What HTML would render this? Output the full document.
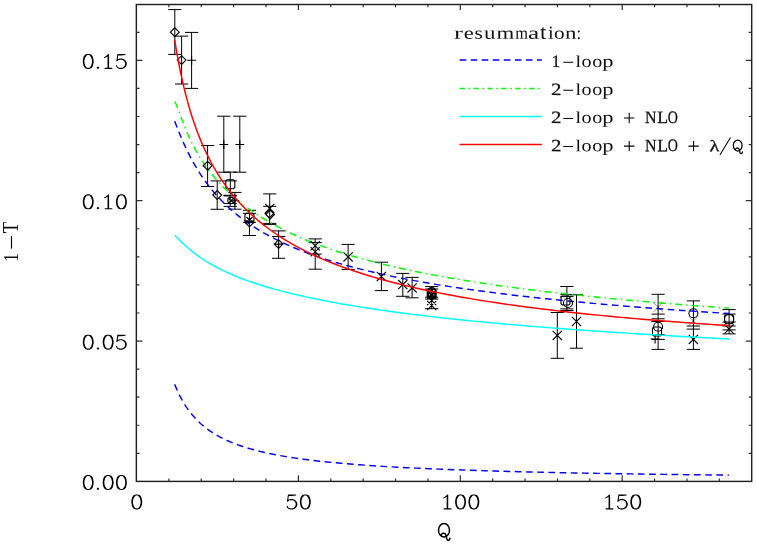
<!DOCTYPE html>
<html><head><meta charset="utf-8"><title>plot</title><style>html,body{margin:0;padding:0;background:#fff}body{width:757px;height:545px;overflow:hidden;font-family:"Liberation Serif",serif}svg{display:block;will-change:transform}</style></head><body>
<svg width="757" height="545" viewBox="0 0 757 545">
<rect width="757" height="545" fill="#fff"/>
<path d="M168.88 481.40 v-3.00 M168.88 4.50 v2.70 M201.26 481.40 v-3.00 M201.26 4.50 v2.70 M233.64 481.40 v-3.00 M233.64 4.50 v2.70 M266.02 481.40 v-3.00 M266.02 4.50 v2.70 M298.40 481.40 v-6.20 M298.40 4.50 v5.58 M330.78 481.40 v-3.00 M330.78 4.50 v2.70 M363.16 481.40 v-3.00 M363.16 4.50 v2.70 M395.54 481.40 v-3.00 M395.54 4.50 v2.70 M427.92 481.40 v-3.00 M427.92 4.50 v2.70 M460.30 481.40 v-6.20 M460.30 4.50 v5.58 M492.68 481.40 v-3.00 M492.68 4.50 v2.70 M525.06 481.40 v-3.00 M525.06 4.50 v2.70 M557.44 481.40 v-3.00 M557.44 4.50 v2.70 M589.82 481.40 v-3.00 M589.82 4.50 v2.70 M622.20 481.40 v-6.20 M622.20 4.50 v5.58 M654.58 481.40 v-3.00 M654.58 4.50 v2.70 M686.96 481.40 v-3.00 M686.96 4.50 v2.70 M719.34 481.40 v-3.00 M719.34 4.50 v2.70 M136.50 453.33 h3.00 M751.70 453.33 h-3.00 M136.50 425.26 h3.00 M751.70 425.26 h-3.00 M136.50 397.19 h3.00 M751.70 397.19 h-3.00 M136.50 369.12 h3.00 M751.70 369.12 h-3.00 M136.50 341.05 h6.00 M751.70 341.05 h-6.00 M136.50 312.98 h3.00 M751.70 312.98 h-3.00 M136.50 284.91 h3.00 M751.70 284.91 h-3.00 M136.50 256.84 h3.00 M751.70 256.84 h-3.00 M136.50 228.77 h3.00 M751.70 228.77 h-3.00 M136.50 200.70 h6.00 M751.70 200.70 h-6.00 M136.50 172.63 h3.00 M751.70 172.63 h-3.00 M136.50 144.56 h3.00 M751.70 144.56 h-3.00 M136.50 116.49 h3.00 M751.70 116.49 h-3.00 M136.50 88.42 h3.00 M751.70 88.42 h-3.00 M136.50 60.35 h6.00 M751.70 60.35 h-6.00 M136.50 32.28 h3.00 M751.70 32.28 h-3.00" stroke="#333" stroke-width="1.2" fill="none"/>
<rect x="136.35" y="4.50" width="615.35" height="476.90" fill="none" stroke="#222" stroke-width="1.45"/>
<g fill="none" stroke="#000" stroke-width="1.1" stroke-linejoin="round" stroke-linecap="round">
<path d="M87.53 475.53 L85.44 476.19 L84.04 478.18 L83.35 481.50 L83.35 483.49 L84.04 486.81 L85.44 488.81 L87.53 489.47 L88.92 489.47 L91.01 488.81 L92.41 486.81 L93.11 483.49 L93.11 481.50 L92.41 478.18 L91.01 476.19 L88.92 475.53 L87.53 475.53 M86.27 476.19 L84.74 478.18 L83.90 481.17 L83.90 483.83 L84.74 486.81 L86.27 488.81 M90.18 488.81 L91.71 486.81 L92.55 483.83 L92.55 481.17 L91.71 478.18 L90.18 476.19 M97.92 488.14 L97.26 488.81 L97.92 489.47 L98.58 488.81 L97.92 488.14 M97.92 488.67 L97.92 488.94 M107.45 475.53 L105.36 476.19 L103.96 478.18 L103.27 481.50 L103.27 483.49 L103.96 486.81 L105.36 488.81 L107.45 489.47 L108.84 489.47 L110.93 488.81 L112.33 486.81 L113.03 483.49 L113.03 481.50 L112.33 478.18 L110.93 476.19 L108.84 475.53 L107.45 475.53 M106.19 476.19 L104.66 478.18 L103.82 481.17 L103.82 483.83 L104.66 486.81 L106.19 488.81 M110.10 488.81 L111.63 486.81 L112.47 483.83 L112.47 481.17 L111.63 478.18 L110.10 476.19 M120.73 475.53 L118.64 476.19 L117.24 478.18 L116.55 481.50 L116.55 483.49 L117.24 486.81 L118.64 488.81 L120.73 489.47 L122.12 489.47 L124.21 488.81 L125.61 486.81 L126.31 483.49 L126.31 481.50 L125.61 478.18 L124.21 476.19 L122.12 475.53 L120.73 475.53 M119.47 476.19 L117.94 478.18 L117.10 481.17 L117.10 483.83 L117.94 486.81 L119.47 488.81 M123.38 488.81 L124.91 486.81 L125.75 483.83 L125.75 481.17 L124.91 478.18 L123.38 476.19"/>
<path d="M87.53 335.18 L85.44 335.84 L84.04 337.83 L83.35 341.15 L83.35 343.14 L84.04 346.46 L85.44 348.46 L87.53 349.12 L88.92 349.12 L91.01 348.46 L92.41 346.46 L93.11 343.14 L93.11 341.15 L92.41 337.83 L91.01 335.84 L88.92 335.18 L87.53 335.18 M86.27 335.84 L84.74 337.83 L83.90 340.82 L83.90 343.48 L84.74 346.46 L86.27 348.46 M90.18 348.46 L91.71 346.46 L92.55 343.48 L92.55 340.82 L91.71 337.83 L90.18 335.84 M97.92 347.79 L97.26 348.46 L97.92 349.12 L98.58 348.46 L97.92 347.79 M97.92 348.32 L97.92 348.59 M107.45 335.18 L105.36 335.84 L103.96 337.83 L103.27 341.15 L103.27 343.14 L103.96 346.46 L105.36 348.46 L107.45 349.12 L108.84 349.12 L110.93 348.46 L112.33 346.46 L113.03 343.14 L113.03 341.15 L112.33 337.83 L110.93 335.84 L108.84 335.18 L107.45 335.18 M106.19 335.84 L104.66 337.83 L103.82 340.82 L103.82 343.48 L104.66 346.46 L106.19 348.46 M110.10 348.46 L111.63 346.46 L112.47 343.48 L112.47 340.82 L111.63 337.83 L110.10 335.84 M117.84 335.18 L116.91 341.48 M116.91 341.48 L117.84 340.49 L119.83 339.82 L121.82 339.82 L123.82 340.49 L125.41 341.82 L126.21 343.81 L126.21 345.14 L125.41 347.13 L123.82 348.46 L121.82 349.12 L119.83 349.12 L117.84 348.46 L117.18 347.79 L116.51 346.46 M121.82 339.82 L123.48 340.49 L124.88 341.82 L125.68 343.81 L125.68 345.14 L124.88 347.13 L123.48 348.46 L121.82 349.12 M117.84 335.18 L125.14 335.18 M117.84 335.71 L121.16 335.71 L125.14 335.18"/>
<path d="M87.53 194.83 L85.44 195.49 L84.04 197.48 L83.35 200.80 L83.35 202.79 L84.04 206.11 L85.44 208.11 L87.53 208.77 L88.92 208.77 L91.01 208.11 L92.41 206.11 L93.11 202.79 L93.11 200.80 L92.41 197.48 L91.01 195.49 L88.92 194.83 L87.53 194.83 M86.27 195.49 L84.74 197.48 L83.90 200.47 L83.90 203.13 L84.74 206.11 L86.27 208.11 M90.18 208.11 L91.71 206.11 L92.55 203.13 L92.55 200.47 L91.71 197.48 L90.18 195.49 M97.92 207.44 L97.26 208.11 L97.92 208.77 L98.58 208.11 L97.92 207.44 M97.92 207.97 L97.92 208.24 M104.69 197.75 L106.22 196.95 L108.54 194.83 L108.54 208.77 M108.08 195.62 L108.08 208.77 M105.09 208.77 L111.86 208.77 M120.73 194.83 L118.64 195.49 L117.24 197.48 L116.55 200.80 L116.55 202.79 L117.24 206.11 L118.64 208.11 L120.73 208.77 L122.12 208.77 L124.21 208.11 L125.61 206.11 L126.31 202.79 L126.31 200.80 L125.61 197.48 L124.21 195.49 L122.12 194.83 L120.73 194.83 M119.47 195.49 L117.94 197.48 L117.10 200.47 L117.10 203.13 L117.94 206.11 L119.47 208.11 M123.38 208.11 L124.91 206.11 L125.75 203.13 L125.75 200.47 L124.91 197.48 L123.38 195.49"/>
<path d="M87.53 54.48 L85.44 55.14 L84.04 57.13 L83.35 60.45 L83.35 62.44 L84.04 65.76 L85.44 67.76 L87.53 68.42 L88.92 68.42 L91.01 67.76 L92.41 65.76 L93.11 62.44 L93.11 60.45 L92.41 57.13 L91.01 55.14 L88.92 54.48 L87.53 54.48 M86.27 55.14 L84.74 57.13 L83.90 60.12 L83.90 62.78 L84.74 65.76 L86.27 67.76 M90.18 67.76 L91.71 65.76 L92.55 62.78 L92.55 60.12 L91.71 57.13 L90.18 55.14 M97.92 67.09 L97.26 67.76 L97.92 68.42 L98.58 67.76 L97.92 67.09 M97.92 67.62 L97.92 67.89 M104.69 57.40 L106.22 56.60 L108.54 54.48 L108.54 68.42 M108.08 55.27 L108.08 68.42 M105.09 68.42 L111.86 68.42 M117.84 54.48 L116.91 60.78 M116.91 60.78 L117.84 59.79 L119.83 59.12 L121.82 59.12 L123.82 59.79 L125.41 61.12 L126.21 63.11 L126.21 64.44 L125.41 66.43 L123.82 67.76 L121.82 68.42 L119.83 68.42 L117.84 67.76 L117.18 67.09 L116.51 65.76 M121.82 59.12 L123.48 59.79 L124.88 61.12 L125.68 63.11 L125.68 64.44 L124.88 66.43 L123.48 67.76 L121.82 68.42 M117.84 54.48 L125.14 54.48 M117.84 55.01 L121.16 55.01 L125.14 54.48"/>
<path d="M136.07 494.96 L133.98 495.62 L132.58 497.61 L131.89 500.93 L131.89 502.92 L132.58 506.24 L133.98 508.24 L136.07 508.90 L137.46 508.90 L139.55 508.24 L140.95 506.24 L141.65 502.92 L141.65 500.93 L140.95 497.61 L139.55 495.62 L137.46 494.96 L136.07 494.96 M134.81 495.62 L133.28 497.61 L132.44 500.60 L132.44 503.26 L133.28 506.24 L134.81 508.24 M138.72 508.24 L140.25 506.24 L141.09 503.26 L141.09 500.60 L140.25 497.61 L138.72 495.62"/>
<path d="M288.44 494.96 L287.51 501.26 M287.51 501.26 L288.44 500.27 L290.43 499.60 L292.42 499.60 L294.42 500.27 L296.01 501.60 L296.81 503.59 L296.81 504.92 L296.01 506.91 L294.42 508.24 L292.42 508.90 L290.43 508.90 L288.44 508.24 L287.78 507.57 L287.11 506.24 M292.42 499.60 L294.08 500.27 L295.48 501.60 L296.28 503.59 L296.28 504.92 L295.48 506.91 L294.08 508.24 L292.42 508.90 M288.44 494.96 L295.74 494.96 M288.44 495.49 L291.76 495.49 L295.74 494.96 M304.61 494.96 L302.52 495.62 L301.12 497.61 L300.43 500.93 L300.43 502.92 L301.12 506.24 L302.52 508.24 L304.61 508.90 L306.00 508.90 L308.09 508.24 L309.49 506.24 L310.19 502.92 L310.19 500.93 L309.49 497.61 L308.09 495.62 L306.00 494.96 L304.61 494.96 M303.35 495.62 L301.82 497.61 L300.98 500.60 L300.98 503.26 L301.82 506.24 L303.35 508.24 M307.26 508.24 L308.79 506.24 L309.63 503.26 L309.63 500.60 L308.79 497.61 L307.26 495.62"/>
<path d="M443.83 497.88 L445.36 497.08 L447.68 494.96 L447.68 508.90 M447.22 495.75 L447.22 508.90 M444.23 508.90 L451.00 508.90 M459.87 494.96 L457.78 495.62 L456.38 497.61 L455.69 500.93 L455.69 502.92 L456.38 506.24 L457.78 508.24 L459.87 508.90 L461.26 508.90 L463.35 508.24 L464.75 506.24 L465.45 502.92 L465.45 500.93 L464.75 497.61 L463.35 495.62 L461.26 494.96 L459.87 494.96 M458.61 495.62 L457.08 497.61 L456.24 500.60 L456.24 503.26 L457.08 506.24 L458.61 508.24 M462.52 508.24 L464.05 506.24 L464.89 503.26 L464.89 500.60 L464.05 497.61 L462.52 495.62 M473.15 494.96 L471.06 495.62 L469.66 497.61 L468.97 500.93 L468.97 502.92 L469.66 506.24 L471.06 508.24 L473.15 508.90 L474.54 508.90 L476.63 508.24 L478.03 506.24 L478.73 502.92 L478.73 500.93 L478.03 497.61 L476.63 495.62 L474.54 494.96 L473.15 494.96 M471.89 495.62 L470.36 497.61 L469.52 500.60 L469.52 503.26 L470.36 506.24 L471.89 508.24 M475.80 508.24 L477.33 506.24 L478.17 503.26 L478.17 500.60 L477.33 497.61 L475.80 495.62"/>
<path d="M605.73 497.88 L607.26 497.08 L609.58 494.96 L609.58 508.90 M609.12 495.75 L609.12 508.90 M606.13 508.90 L612.90 508.90 M618.88 494.96 L617.95 501.26 M617.95 501.26 L618.88 500.27 L620.87 499.60 L622.86 499.60 L624.86 500.27 L626.45 501.60 L627.25 503.59 L627.25 504.92 L626.45 506.91 L624.86 508.24 L622.86 508.90 L620.87 508.90 L618.88 508.24 L618.22 507.57 L617.55 506.24 M622.86 499.60 L624.52 500.27 L625.92 501.60 L626.72 503.59 L626.72 504.92 L625.92 506.91 L624.52 508.24 L622.86 508.90 M618.88 494.96 L626.18 494.96 M618.88 495.49 L622.20 495.49 L626.18 494.96 M635.05 494.96 L632.96 495.62 L631.56 497.61 L630.87 500.93 L630.87 502.92 L631.56 506.24 L632.96 508.24 L635.05 508.90 L636.44 508.90 L638.53 508.24 L639.93 506.24 L640.63 502.92 L640.63 500.93 L639.93 497.61 L638.53 495.62 L636.44 494.96 L635.05 494.96 M633.79 495.62 L632.26 497.61 L631.42 500.60 L631.42 503.26 L632.26 506.24 L633.79 508.24 M637.70 508.24 L639.23 506.24 L640.07 503.26 L640.07 500.60 L639.23 497.61 L637.70 495.62"/>
</g>
<path d="M174.80 9.60 V54.40 M168.20 9.60 h13.20 M168.20 54.40 h13.20 M181.60 36.10 V84.00 M175.00 36.10 h13.20 M175.00 84.00 h13.20 M191.60 32.40 V88.40 M185.00 32.40 h13.20 M185.00 88.40 h13.20 M207.60 145.50 V186.50 M201.00 145.50 h13.20 M201.00 186.50 h13.20 M223.80 116.20 V172.20 M217.20 116.20 h13.20 M217.20 172.20 h13.20 M239.80 116.20 V172.20 M233.20 116.20 h13.20 M233.20 172.20 h13.20 M217.20 180.90 V209.30 M210.60 180.90 h13.20 M210.60 209.30 h13.20 M230.30 172.10 V195.60 M223.70 172.10 h13.20 M223.70 180.90 h13.20 M223.70 195.60 h13.20 M230.20 195.60 V206.40 M223.60 195.30 h13.20 M223.60 195.90 h13.20 M223.60 203.50 h13.20 M223.60 206.40 h13.20 M234.90 192.40 V209.20 M228.30 192.40 h13.20 M228.30 209.20 h13.20 M249.45 210.30 V235.50 M242.85 210.30 h13.20 M242.85 213.30 h13.20 M242.85 222.30 h13.20 M242.85 235.50 h13.20 M269.70 193.90 V224.20 M263.10 193.90 h13.20 M263.10 206.30 h13.20 M263.10 223.40 h13.20 M263.10 224.40 h13.20 M278.60 230.90 V258.30 M272.00 230.90 h13.20 M272.00 236.50 h13.20 M272.00 258.30 h13.20 M315.20 238.90 V269.20 M308.60 238.90 h13.20 M308.60 242.60 h13.20 M308.60 254.10 h13.20 M308.60 269.20 h13.20 M348.10 244.40 V269.40 M341.50 244.40 h13.20 M341.50 269.40 h13.20 M381.40 262.20 V290.60 M374.80 262.20 h13.20 M374.80 290.60 h13.20 M402.80 273.40 V296.30 M396.20 273.40 h13.20 M396.20 296.30 h13.20 M412.10 277.40 V297.80 M405.50 277.40 h13.20 M405.50 297.80 h13.20 M431.70 286.30 V308.70 M425.10 286.60 h13.20 M425.10 289.00 h13.20 M425.10 297.20 h13.20 M425.10 299.10 h13.20 M425.10 308.70 h13.20 M557.30 312.50 V358.30 M550.70 312.50 h13.20 M550.70 358.30 h13.20 M566.90 286.50 V310.50 M560.30 286.50 h13.20 M560.30 294.70 h13.20 M560.30 296.60 h13.20 M560.30 308.90 h13.20 M560.30 310.50 h13.20 M576.50 294.80 V348.20 M569.90 294.80 h13.20 M569.90 348.20 h13.20 M658.10 294.30 V349.40 M651.50 294.30 h13.20 M651.50 314.10 h13.20 M651.50 318.80 h13.20 M651.50 321.50 h13.20 M651.50 334.70 h13.20 M651.50 339.40 h13.20 M651.50 349.40 h13.20 M693.40 300.90 V349.40 M686.80 300.90 h13.20 M686.80 326.00 h13.20 M686.80 329.10 h13.20 M686.80 349.40 h13.20 M729.10 309.60 V333.90 M722.50 309.60 h13.20 M722.50 314.10 h13.20 M722.50 322.00 h13.20 M722.50 326.00 h13.20 M722.50 329.90 h13.20 M722.50 333.90 h13.20" stroke="#000" stroke-width="1" fill="none"/>
<g fill="none" stroke-width="1.45">
<path d="M174.71 384.35 L176.26 388.13 L177.80 391.62 L179.35 394.86 L180.90 397.88 L182.45 400.69 L183.99 403.32 L185.54 405.79 L187.09 408.10 L188.64 410.28 L190.18 412.33 L191.73 414.26 L193.28 416.09 L194.83 417.83 L196.38 419.47 L197.92 421.03 L199.47 422.51 L201.02 423.93 L202.57 425.27 L204.11 426.56 L205.66 427.78 L207.21 428.96 L208.76 430.08 L210.30 431.16 L211.85 432.19 L213.40 433.18 L214.95 434.13 L216.50 435.05 L218.04 435.92 L219.59 436.77 L221.14 437.59 L222.69 438.37 L224.23 439.13 L225.78 439.87 L227.33 440.57 L228.88 441.26 L230.42 441.92 L231.97 442.56 L233.52 443.18 L235.07 443.78 L236.61 444.36 L238.16 444.92 L239.71 445.47 L241.26 446.00 L242.81 446.52 L244.35 447.02 L245.90 447.50 L247.45 447.98 L249.00 448.44 L250.54 448.88 L252.09 449.32 L253.64 449.74 L255.19 450.16 L256.73 450.56 L258.28 450.95 L259.83 451.33 L261.38 451.71 L262.92 452.07 L264.47 452.42 L266.02 452.77 L270.70 453.77 L275.37 454.70 L280.05 455.57 L284.73 456.38 L289.41 457.15 L294.08 457.87 L298.76 458.55 L303.44 459.19 L308.11 459.79 L312.79 460.37 L317.47 460.91 L322.15 461.43 L326.82 461.92 L331.50 462.38 L336.18 462.83 L340.85 463.25 L345.53 463.66 L350.21 464.05 L354.89 464.42 L359.56 464.78 L364.24 465.12 L368.92 465.45 L373.59 465.76 L378.27 466.06 L382.95 466.35 L387.62 466.63 L392.30 466.90 L396.98 467.16 L401.66 467.42 L406.33 467.66 L411.01 467.89 L415.69 468.12 L420.36 468.34 L425.04 468.55 L429.72 468.75 L434.40 468.95 L439.07 469.14 L443.75 469.33 L448.43 469.51 L453.10 469.69 L457.78 469.86 L462.46 470.02 L467.14 470.18 L471.81 470.34 L476.49 470.49 L481.17 470.64 L485.84 470.79 L490.52 470.93 L495.20 471.06 L499.88 471.20 L504.55 471.32 L509.23 471.45 L513.91 471.57 L518.58 471.69 L523.26 471.81 L527.94 471.93 L532.62 472.04 L537.29 472.15 L541.97 472.25 L546.65 472.36 L551.32 472.46 L556.00 472.56 L560.68 472.66 L565.36 472.75 L570.03 472.85 L574.71 472.94 L579.39 473.03 L584.06 473.11 L588.74 473.20 L593.42 473.28 L598.09 473.37 L602.77 473.45 L607.45 473.53 L612.13 473.60 L616.80 473.68 L621.48 473.75 L626.16 473.83 L630.83 473.90 L635.51 473.97 L640.19 474.04 L644.87 474.11 L649.54 474.17 L654.22 474.24 L658.90 474.30 L663.57 474.36 L668.25 474.43 L672.93 474.49 L677.61 474.55 L682.28 474.61 L686.96 474.66 L691.64 474.72 L696.31 474.78 L700.99 474.83 L705.67 474.88 L710.35 474.94 L715.02 474.99 L719.70 475.04 L724.38 475.09 L729.05 475.14" stroke="#00f" stroke-dasharray="6.7 4.5"/>
<path d="M174.71 121.21 L176.26 125.29 L177.80 129.26 L179.35 133.10 L180.90 136.82 L182.45 140.42 L183.99 143.89 L185.54 147.24 L187.09 150.48 L188.64 153.60 L190.18 156.61 L191.73 159.52 L193.28 162.33 L194.83 165.05 L196.38 167.67 L197.92 170.21 L199.47 172.66 L201.02 175.04 L202.57 177.34 L204.11 179.57 L205.66 181.73 L207.21 183.83 L208.76 185.86 L210.30 187.84 L211.85 189.75 L213.40 191.62 L214.95 193.43 L216.50 195.19 L218.04 196.91 L219.59 198.57 L221.14 200.20 L222.69 201.78 L224.23 203.32 L225.78 204.83 L227.33 206.30 L228.88 207.73 L230.42 209.13 L231.97 210.49 L233.52 211.82 L235.07 213.13 L236.61 214.40 L238.16 215.64 L239.71 216.86 L241.26 218.05 L242.81 219.22 L244.35 220.36 L245.90 221.48 L247.45 222.58 L249.00 223.65 L250.54 224.70 L252.09 225.73 L253.64 226.74 L255.19 227.73 L256.73 228.71 L258.28 229.66 L259.83 230.60 L261.38 231.52 L262.92 232.42 L264.47 233.31 L266.02 234.18 L270.70 236.72 L275.37 239.14 L280.05 241.44 L284.73 243.63 L289.41 245.73 L294.08 247.73 L298.76 249.64 L303.44 251.48 L308.11 253.24 L312.79 254.93 L317.47 256.56 L322.15 258.13 L326.82 259.64 L331.50 261.10 L336.18 262.51 L340.85 263.87 L345.53 265.18 L350.21 266.46 L354.89 267.69 L359.56 268.89 L364.24 270.04 L368.92 271.17 L373.59 272.26 L378.27 273.32 L382.95 274.36 L387.62 275.36 L392.30 276.34 L396.98 277.29 L401.66 278.22 L406.33 279.12 L411.01 280.00 L415.69 280.86 L420.36 281.70 L425.04 282.52 L429.72 283.33 L434.40 284.11 L439.07 284.87 L443.75 285.62 L448.43 286.35 L453.10 287.07 L457.78 287.77 L462.46 288.46 L467.14 289.13 L471.81 289.79 L476.49 290.44 L481.17 291.07 L485.84 291.70 L490.52 292.31 L495.20 292.90 L499.88 293.49 L504.55 294.07 L509.23 294.64 L513.91 295.19 L518.58 295.74 L523.26 296.28 L527.94 296.81 L532.62 297.33 L537.29 297.84 L541.97 298.34 L546.65 298.83 L551.32 299.32 L556.00 299.80 L560.68 300.27 L565.36 300.73 L570.03 301.19 L574.71 301.64 L579.39 302.08 L584.06 302.52 L588.74 302.95 L593.42 303.37 L598.09 303.79 L602.77 304.20 L607.45 304.61 L612.13 305.01 L616.80 305.40 L621.48 305.79 L626.16 306.18 L630.83 306.56 L635.51 306.93 L640.19 307.30 L644.87 307.67 L649.54 308.03 L654.22 308.38 L658.90 308.73 L663.57 309.08 L668.25 309.42 L672.93 309.76 L677.61 310.09 L682.28 310.42 L686.96 310.75 L691.64 311.07 L696.31 311.39 L700.99 311.70 L705.67 312.02 L710.35 312.32 L715.02 312.63 L719.70 312.93 L724.38 313.23 L729.05 313.52" stroke="#00f" stroke-dasharray="6.7 4.5"/>
<path d="M174.71 101.65 L176.26 104.42 L177.80 108.18 L179.35 112.34 L180.90 116.59 L182.45 120.79 L183.99 124.85 L185.54 128.74 L187.09 132.46 L188.64 135.99 L190.18 139.36 L191.73 142.57 L193.28 145.63 L194.83 148.55 L196.38 151.35 L197.92 154.03 L199.47 156.61 L201.02 159.08 L202.57 161.47 L204.11 163.77 L205.66 165.99 L207.21 168.14 L208.76 170.22 L210.30 172.23 L211.85 174.18 L213.40 176.08 L214.95 177.93 L216.50 179.72 L218.04 181.47 L219.59 183.17 L221.14 184.82 L222.69 186.44 L224.23 188.02 L225.78 189.56 L227.33 191.06 L228.88 192.53 L230.42 193.96 L231.97 195.37 L233.52 196.74 L235.07 198.09 L236.61 199.40 L238.16 200.69 L239.71 201.96 L241.26 203.19 L242.81 204.41 L244.35 205.60 L245.90 206.77 L247.45 207.91 L249.00 209.04 L250.54 210.14 L252.09 211.22 L253.64 212.29 L255.19 213.33 L256.73 214.36 L258.28 215.37 L259.83 216.36 L261.38 217.34 L262.92 218.30 L264.47 219.24 L266.02 220.17 L270.70 222.89 L275.37 225.48 L280.05 227.96 L284.73 230.33 L289.41 232.60 L294.08 234.77 L298.76 236.86 L303.44 238.87 L308.11 240.80 L312.79 242.65 L317.47 244.45 L322.15 246.17 L326.82 247.84 L331.50 249.45 L336.18 251.01 L340.85 252.52 L345.53 253.98 L350.21 255.40 L354.89 256.77 L359.56 258.10 L364.24 259.39 L368.92 260.65 L373.59 261.87 L378.27 263.06 L382.95 264.21 L387.62 265.34 L392.30 266.43 L396.98 267.50 L401.66 268.54 L406.33 269.55 L411.01 270.54 L415.69 271.51 L420.36 272.45 L425.04 273.37 L429.72 274.27 L434.40 275.15 L439.07 276.01 L443.75 276.85 L448.43 277.67 L453.10 278.48 L457.78 279.27 L462.46 280.04 L467.14 280.80 L471.81 281.54 L476.49 282.27 L481.17 282.98 L485.84 283.68 L490.52 284.37 L495.20 285.04 L499.88 285.70 L504.55 286.35 L509.23 286.98 L513.91 287.61 L518.58 288.22 L523.26 288.83 L527.94 289.42 L532.62 290.01 L537.29 290.58 L541.97 291.14 L546.65 291.70 L551.32 292.24 L556.00 292.78 L560.68 293.31 L565.36 293.83 L570.03 294.34 L574.71 294.85 L579.39 295.34 L584.06 295.83 L588.74 296.32 L593.42 296.79 L598.09 297.26 L602.77 297.72 L607.45 298.18 L612.13 298.62 L616.80 299.07 L621.48 299.50 L626.16 299.93 L630.83 300.36 L635.51 300.77 L640.19 301.19 L644.87 301.59 L649.54 302.00 L654.22 302.39 L658.90 302.79 L663.57 303.17 L668.25 303.55 L672.93 303.93 L677.61 304.30 L682.28 304.67 L686.96 305.04 L691.64 305.39 L696.31 305.75 L700.99 306.10 L705.67 306.45 L710.35 306.79 L715.02 307.13 L719.70 307.46 L724.38 307.79 L729.05 308.12" stroke="#0f0" stroke-dasharray="7 4 1.4 4"/>
</g>
<path d="M653.50 302.60 l9.20 9.20 M653.50 311.80 l9.20 -9.20 M688.80 316.40 l9.20 9.20 M688.80 325.60 l9.20 -9.20" stroke="#000" stroke-opacity="0.45" stroke-width="1" fill="none"/>
<path d="M170.40 32.20 L174.80 27.80 L179.20 32.20 L174.80 36.60 Z M177.20 60.10 L181.60 55.70 L186.00 60.10 L181.60 64.50 Z M187.20 60.30 h8.80 M191.60 55.90 v8.80 M203.20 165.70 L207.60 161.30 L212.00 165.70 L207.60 170.10 Z M219.40 144.50 h8.80 M223.80 140.10 v8.80 M235.40 144.50 h8.80 M239.80 140.10 v8.80 M212.80 195.00 L217.20 190.60 L221.60 195.00 L217.20 199.40 Z M227.10 179.70 h6.40 l1.30 1.30 v6.40 l-1.30 1.30 h-6.40 l-1.30 -1.30 v-6.40 Z M228.00 197.60 l6.00 6.00 M228.00 203.60 l6.00 -6.00 M227.80 200.60 a3.20 3.20 0 1 0 6.40 0 a3.20 3.20 0 1 0 -6.40 0 M230.50 200.80 h8.80 M234.90 196.40 v8.80 M245.05 222.40 L249.45 218.00 L253.85 222.40 L249.45 226.80 Z M246.25 213.30 h6.40 l1.30 1.30 v6.40 l-1.30 1.30 h-6.40 l-1.30 -1.30 v-6.40 Z M246.45 217.00 l6.00 6.00 M246.45 223.00 l6.00 -6.00 M265.00 213.40 L269.40 209.00 L273.80 213.40 L269.40 217.80 Z M265.80 214.50 L270.20 210.10 L274.60 214.50 L270.20 218.90 Z M265.10 203.80 l9.20 9.20 M265.10 213.00 l9.20 -9.20 M274.20 244.10 L278.60 239.70 L283.00 244.10 L278.60 248.50 Z M274.20 244.10 h8.80 M278.60 239.70 v8.80 M310.60 241.20 l9.20 9.20 M310.60 250.40 l9.20 -9.20 M310.60 247.20 l9.20 9.20 M310.60 256.40 l9.20 -9.20 M343.50 252.30 l9.20 9.20 M343.50 261.50 l9.20 -9.20 M376.80 271.80 l9.20 9.20 M376.80 281.00 l9.20 -9.20 M398.20 280.00 l9.20 9.20 M398.20 289.20 l9.20 -9.20 M407.50 283.30 l9.20 9.20 M407.50 292.50 l9.20 -9.20 M427.20 292.00 a4.50 4.50 0 1 0 9.00 0 a4.50 4.50 0 1 0 -9.00 0 M428.50 289.10 h6.40 l1.30 1.30 v6.40 l-1.30 1.30 h-6.40 l-1.30 -1.30 v-6.40 Z M427.30 294.20 L431.70 289.80 L436.10 294.20 L431.70 298.60 Z M427.30 291.20 L431.70 286.80 L436.10 291.20 L431.70 295.60 Z M428.50 294.50 a3.20 3.20 0 1 0 6.40 0 a3.20 3.20 0 1 0 -6.40 0 M427.10 289.60 l9.20 9.20 M427.10 298.80 l9.20 -9.20 M427.10 295.90 l9.20 9.20 M427.10 305.10 l9.20 -9.20 M427.10 300.90 l9.20 9.20 M427.10 310.10 l9.20 -9.20 M552.70 330.80 l9.20 9.20 M552.70 340.00 l9.20 -9.20 M562.30 296.00 h6.40 l1.30 1.30 v6.40 l-1.30 1.30 h-6.40 l-1.30 -1.30 v-6.40 Z M563.50 303.00 a4.50 4.50 0 1 0 9.00 0 a4.50 4.50 0 1 0 -9.00 0 M571.90 316.90 l9.20 9.20 M571.90 326.10 l9.20 -9.20 M653.60 326.80 a4.50 4.50 0 1 0 9.00 0 a4.50 4.50 0 1 0 -9.00 0 M653.80 327.00 h6.40 l1.30 1.30 v6.40 l-1.30 1.30 h-6.40 l-1.30 -1.30 v-6.40 Z M650.70 339.00 h8.80 M655.10 334.60 v8.80 M688.90 313.30 a4.50 4.50 0 1 0 9.00 0 a4.50 4.50 0 1 0 -9.00 0 M688.80 334.80 l9.20 9.20 M688.80 344.00 l9.20 -9.20 M724.60 318.90 a4.50 4.50 0 1 0 9.00 0 a4.50 4.50 0 1 0 -9.00 0 M725.90 314.70 h6.40 l1.30 1.30 v6.40 l-1.30 1.30 h-6.40 l-1.30 -1.30 v-6.40 Z M724.50 324.40 l9.20 9.20 M724.50 333.60 l9.20 -9.20" stroke="#000" stroke-width="1.1" fill="none"/>
<g fill="none" stroke-width="1.45">
<path d="M174.71 235.25 L176.26 236.77 L177.80 238.31 L179.35 239.84 L180.90 241.36 L182.45 242.86 L183.99 244.32 L185.54 245.74 L187.09 247.13 L188.64 248.48 L190.18 249.80 L191.73 251.07 L193.28 252.31 L194.83 253.51 L196.38 254.67 L197.92 255.81 L199.47 256.91 L201.02 257.98 L202.57 259.02 L204.11 260.03 L205.66 261.01 L207.21 261.97 L208.76 262.91 L210.30 263.82 L211.85 264.71 L213.40 265.57 L214.95 266.42 L216.50 267.25 L218.04 268.05 L219.59 268.84 L221.14 269.61 L222.69 270.37 L224.23 271.11 L225.78 271.83 L227.33 272.54 L228.88 273.23 L230.42 273.92 L231.97 274.58 L233.52 275.24 L235.07 275.88 L236.61 276.51 L238.16 277.13 L239.71 277.74 L241.26 278.34 L242.81 278.92 L244.35 279.50 L245.90 280.07 L247.45 280.63 L249.00 281.18 L250.54 281.72 L252.09 282.25 L253.64 282.77 L255.19 283.29 L256.73 283.79 L258.28 284.29 L259.83 284.79 L261.38 285.27 L262.92 285.75 L264.47 286.22 L266.02 286.69 L270.70 288.06 L275.37 289.37 L280.05 290.63 L284.73 291.85 L289.41 293.02 L294.08 294.16 L298.76 295.25 L303.44 296.31 L308.11 297.34 L312.79 298.33 L317.47 299.29 L322.15 300.23 L326.82 301.14 L331.50 302.02 L336.18 302.88 L340.85 303.71 L345.53 304.53 L350.21 305.32 L354.89 306.10 L359.56 306.85 L364.24 307.59 L368.92 308.31 L373.59 309.01 L378.27 309.70 L382.95 310.37 L387.62 311.03 L392.30 311.67 L396.98 312.30 L401.66 312.92 L406.33 313.52 L411.01 314.12 L415.69 314.70 L420.36 315.27 L425.04 315.83 L429.72 316.37 L434.40 316.91 L439.07 317.44 L443.75 317.96 L448.43 318.47 L453.10 318.97 L457.78 319.46 L462.46 319.95 L467.14 320.43 L471.81 320.89 L476.49 321.35 L481.17 321.81 L485.84 322.25 L490.52 322.69 L495.20 323.13 L499.88 323.55 L504.55 323.97 L509.23 324.39 L513.91 324.79 L518.58 325.20 L523.26 325.59 L527.94 325.98 L532.62 326.37 L537.29 326.75 L541.97 327.12 L546.65 327.49 L551.32 327.85 L556.00 328.21 L560.68 328.57 L565.36 328.92 L570.03 329.26 L574.71 329.61 L579.39 329.94 L584.06 330.28 L588.74 330.61 L593.42 330.93 L598.09 331.25 L602.77 331.57 L607.45 331.88 L612.13 332.19 L616.80 332.50 L621.48 332.80 L626.16 333.10 L630.83 333.39 L635.51 333.69 L640.19 333.98 L644.87 334.26 L649.54 334.55 L654.22 334.83 L658.90 335.10 L663.57 335.38 L668.25 335.65 L672.93 335.92 L677.61 336.18 L682.28 336.44 L686.96 336.70 L691.64 336.96 L696.31 337.22 L700.99 337.47 L705.67 337.72 L710.35 337.97 L715.02 338.21 L719.70 338.45 L724.38 338.69 L729.05 338.93" stroke="#0ff"/>
<path d="M174.71 39.75 L176.26 49.30 L177.80 58.13 L179.35 66.31 L180.90 73.93 L182.45 81.05 L183.99 87.71 L185.54 93.98 L187.09 99.88 L188.64 105.45 L190.18 110.72 L191.73 115.72 L193.28 120.47 L194.83 124.99 L196.38 129.30 L197.92 133.42 L199.47 137.36 L201.02 141.13 L202.57 144.75 L204.11 148.22 L205.66 151.55 L207.21 154.77 L208.76 157.86 L210.30 160.84 L211.85 163.72 L213.40 166.50 L214.95 169.19 L216.50 171.79 L218.04 174.31 L219.59 176.75 L221.14 179.12 L222.69 181.42 L224.23 183.64 L225.78 185.81 L227.33 187.92 L228.88 189.96 L230.42 191.96 L231.97 193.90 L233.52 195.78 L235.07 197.63 L236.61 199.42 L238.16 201.17 L239.71 202.88 L241.26 204.55 L242.81 206.18 L244.35 207.77 L245.90 209.33 L247.45 210.85 L249.00 212.33 L250.54 213.79 L252.09 215.21 L253.64 216.61 L255.19 217.97 L256.73 219.31 L258.28 220.62 L259.83 221.90 L261.38 223.16 L262.92 224.40 L264.47 225.61 L266.02 226.79 L270.70 230.25 L275.37 233.52 L280.05 236.63 L284.73 239.58 L289.41 242.38 L294.08 245.06 L298.76 247.61 L303.44 250.05 L308.11 252.38 L312.79 254.62 L317.47 256.76 L322.15 258.82 L326.82 260.80 L331.50 262.71 L336.18 264.54 L340.85 266.31 L345.53 268.01 L350.21 269.66 L354.89 271.25 L359.56 272.79 L364.24 274.27 L368.92 275.71 L373.59 277.11 L378.27 278.46 L382.95 279.77 L387.62 281.04 L392.30 282.27 L396.98 283.47 L401.66 284.63 L406.33 285.77 L411.01 286.87 L415.69 287.94 L420.36 288.98 L425.04 290.00 L429.72 290.99 L434.40 291.95 L439.07 292.89 L443.75 293.81 L448.43 294.70 L453.10 295.58 L457.78 296.43 L462.46 297.26 L467.14 298.08 L471.81 298.87 L476.49 299.65 L481.17 300.41 L485.84 301.15 L490.52 301.88 L495.20 302.59 L499.88 303.29 L504.55 303.97 L509.23 304.64 L513.91 305.29 L518.58 305.93 L523.26 306.56 L527.94 307.18 L532.62 307.78 L537.29 308.37 L541.97 308.95 L546.65 309.52 L551.32 310.08 L556.00 310.63 L560.68 311.17 L565.36 311.70 L570.03 312.22 L574.71 312.73 L579.39 313.23 L584.06 313.72 L588.74 314.20 L593.42 314.68 L598.09 315.14 L602.77 315.60 L607.45 316.05 L612.13 316.50 L616.80 316.93 L621.48 317.36 L626.16 317.78 L630.83 318.20 L635.51 318.61 L640.19 319.01 L644.87 319.41 L649.54 319.80 L654.22 320.18 L658.90 320.56 L663.57 320.93 L668.25 321.29 L672.93 321.66 L677.61 322.01 L682.28 322.36 L686.96 322.71 L691.64 323.05 L696.31 323.38 L700.99 323.71 L705.67 324.04 L710.35 324.36 L715.02 324.67 L719.70 324.99 L724.38 325.29 L729.05 325.60" stroke="#f00"/>
<path d="M459.6 60.0 H541.9" stroke="#00f" stroke-dasharray="6.6 4.45"/>
<path d="M459.6 88.4 H541.9" stroke="#0f0" stroke-dasharray="5.3 3.6 1.6 3.4"/>
<path d="M459.6 116.5 H541.9" stroke="#0ff"/>
<path d="M459.6 144.4 H541.9" stroke="#f00"/>
</g>
<g font-family="'Liberation Serif', serif" fill="#111">
<text transform="translate(453.88 38.80) rotate(0.03) scale(1.4756 0.9749)" font-size="18">r</text>
<text transform="translate(463.80 38.80) rotate(0.03) scale(1.2516 0.9749)" font-size="18">e</text>
<text transform="translate(474.43 38.80) rotate(0.03) scale(1.1852 0.9749)" font-size="18">s</text>
<text transform="translate(483.90 38.80) rotate(0.03) scale(1.2731 1.0074)" font-size="18">u</text>
<text transform="translate(496.54 38.80) rotate(0.03) scale(1.2667 0.9749)" font-size="18">m</text>
<text transform="translate(515.14 38.80) rotate(0.03) scale(0.9111 0.9749)" font-size="18">m</text>
<text transform="translate(528.12 38.80) rotate(0.03) scale(1.3949 0.9749)" font-size="18">a</text>
<text transform="translate(540.00 38.80) rotate(0.03) scale(1.2840 1.1435)" font-size="18">t</text>
<text transform="translate(547.98 38.80) rotate(0.03) scale(1.1333 1.0253)" font-size="18">i</text>
<text transform="translate(554.04 38.80) rotate(0.03) scale(1.1810 0.9749)" font-size="18">o</text>
<text transform="translate(565.04 38.80) rotate(0.03) scale(1.2731 0.9749)" font-size="18">n</text>
<path d="M578.8 31.4 v0.01 M578.8 38.3 v0.01" stroke="#000" stroke-width="2" stroke-linecap="round" fill="none"/>
<text transform="translate(551.62 66.90) rotate(0.03) scale(0.9778 0.9592)" font-size="18" stroke="#111" stroke-width="0.25">1</text>
<text transform="translate(575.43 66.90) rotate(0.03) scale(1.1222 0.9244)" font-size="18">l</text>
<text transform="translate(581.57 66.90) rotate(0.03) scale(1.1175 0.9749)" font-size="18">o</text>
<text transform="translate(592.27 66.90) rotate(0.03) scale(1.1175 0.9749)" font-size="18">o</text>
<text transform="translate(602.25 66.90) rotate(0.03) scale(1.2506 0.9749)" font-size="18">p</text>
<text transform="translate(551.05 95.00) rotate(0.03) scale(1.1588 0.9592)" font-size="18" stroke="#111" stroke-width="0.25">2</text>
<text transform="translate(575.43 95.00) rotate(0.03) scale(1.1222 0.9244)" font-size="18">l</text>
<text transform="translate(581.57 95.00) rotate(0.03) scale(1.1175 0.9749)" font-size="18">o</text>
<text transform="translate(592.27 95.00) rotate(0.03) scale(1.1175 0.9749)" font-size="18">o</text>
<text transform="translate(602.25 95.00) rotate(0.03) scale(1.2506 0.9749)" font-size="18">p</text>
<text transform="translate(551.05 123.10) rotate(0.03) scale(1.1588 0.9592)" font-size="18" stroke="#111" stroke-width="0.25">2</text>
<text transform="translate(575.43 123.10) rotate(0.03) scale(1.1222 0.9244)" font-size="18">l</text>
<text transform="translate(581.57 123.10) rotate(0.03) scale(1.1175 0.9749)" font-size="18">o</text>
<text transform="translate(592.27 123.10) rotate(0.03) scale(1.1175 0.9749)" font-size="18">o</text>
<text transform="translate(602.25 123.10) rotate(0.03) scale(1.2506 0.9749)" font-size="18">p</text>
<text transform="translate(644.95 123.10) rotate(0.03) scale(0.8889 0.9651)" font-size="18" stroke="#111" stroke-width="0.3">N</text>
<text transform="translate(657.22 123.10) rotate(0.03) scale(0.9854 0.9651)" font-size="18" stroke="#111" stroke-width="0.3">L</text>
<text transform="translate(667.66 123.10) rotate(0.03) scale(0.7788 0.9674)" font-size="18" stroke="#111" stroke-width="0.3">O</text>
<text transform="translate(551.05 151.20) rotate(0.03) scale(1.1588 0.9592)" font-size="18" stroke="#111" stroke-width="0.25">2</text>
<text transform="translate(575.43 151.20) rotate(0.03) scale(1.1222 0.9244)" font-size="18">l</text>
<text transform="translate(581.57 151.20) rotate(0.03) scale(1.1175 0.9749)" font-size="18">o</text>
<text transform="translate(592.27 151.20) rotate(0.03) scale(1.1175 0.9749)" font-size="18">o</text>
<text transform="translate(602.25 151.20) rotate(0.03) scale(1.2506 0.9749)" font-size="18">p</text>
<text transform="translate(644.95 151.20) rotate(0.03) scale(0.8889 0.9651)" font-size="18" stroke="#111" stroke-width="0.3">N</text>
<text transform="translate(657.22 151.20) rotate(0.03) scale(0.9854 0.9651)" font-size="18" stroke="#111" stroke-width="0.3">L</text>
<text transform="translate(667.66 151.20) rotate(0.03) scale(0.7788 0.9674)" font-size="18" stroke="#111" stroke-width="0.3">O</text>
<text transform="translate(709.38 151.20) rotate(0.03) scale(1.1259 0.8889)" font-size="18" stroke="#111" stroke-width="0.3">λ</text>
</g>
<path d="M563.3 62.20 H573.1 M563.3 90.30 H573.1 M563.3 118.40 H573.1 M624.0 118.00 h10.4 M629.2 112.80 v10.4 M563.3 146.50 H573.1 M624.0 146.10 h10.4 M629.2 140.90 v10.4 M688.4 146.10 h10.4 M693.6 140.90 v10.4 M719.9 155.10 L730.5 137.60" stroke="#000" stroke-width="1.05" fill="none"/>
<path d="M733.30 145.60 a4.40 5.40 0 1 0 8.80 0 a4.40 5.40 0 1 0 -8.80 0 M735.30 149.76 L735.94 148.48 L737.30 147.84 L738.74 148.48 L739.38 149.84 L739.86 152.24 L740.42 153.36 L741.22 153.68 L742.02 153.20 L742.42 151.92" stroke="#000" stroke-width="1.25" fill="none" stroke-linecap="round" stroke-linejoin="round"/>
<path d="M438.50 530.30 a5.50 6.75 0 1 0 11.00 0 a5.50 6.75 0 1 0 -11.00 0 M441.00 535.50 L441.80 533.90 L443.50 533.10 L445.30 533.90 L446.10 535.60 L446.70 538.60 L447.40 540.00 L448.40 540.40 L449.40 539.80 L449.90 538.20" stroke="#000" stroke-width="1.5" fill="none" stroke-linecap="round" stroke-linejoin="round"/>
<g font-family="'Liberation Serif', serif" font-size="22" fill="#111" transform="translate(18.4 260.9) rotate(-90)">
<text transform="translate(-1.22 0) scale(0.8242 0.9945)">1</text>
<text transform="translate(27.61 0) scale(0.8421 1.0113)">T</text>
<path d="M12.3 -6.9 H24.7" stroke="#000" stroke-width="1.15" fill="none"/>
</g>
</svg>
</body></html>
